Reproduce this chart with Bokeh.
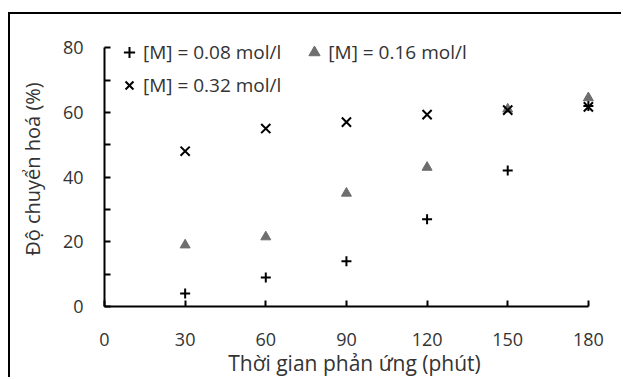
from bokeh.plotting import figure
from bokeh.models import FixedTicker, Legend, LegendItem, Range1d
from bokeh.embed import file_html
from bokeh.resources import INLINE

times = [30, 60, 90, 120, 150, 180]
conv_008 = [4, 9, 14, 27, 42, 62]
conv_016 = [19, 21.5, 35, 43, 61, 64.5]
conv_032 = [48, 55, 57, 59.3, 60.7, 61.7]
x_ticks = [0, 30, 60, 90, 120, 150, 180]
y_ticks = [0, 20, 40, 60, 80]
y_minor = [10, 30, 50, 70]
labels = ["[M] = 0.08 mol/l", "[M] = 0.16 mol/l", "[M] = 0.32 mol/l"]

FONT = "Open Sans"
TXT = "#333333"

p = figure(width=613, height=365, output_backend="svg", toolbar_location=None,
           x_range=Range1d(0, 186), y_range=Range1d(0, 85),
           min_border_left=94, min_border_right=19, min_border_top=17, min_border_bottom=73)
p.margin = (12, 0, 0, 8)
p.styles = {"border-top": "2px solid black", "border-left": "2px solid black"}
p.outline_line_color = None
p.grid.visible = False
p.background_fill_color = "white"
p.border_fill_color = "white"

r1 = p.scatter(times, conv_008, marker="cross", size=10, line_color="black", line_width=2)
r2 = p.scatter(times, conv_016, marker="triangle", size=10, fill_color="#6e6e6e", line_color="#6e6e6e")
r3 = p.scatter(times, conv_032, marker="x", size=13, line_color="black", line_width=2)

for ax in (p.xaxis[0], p.yaxis[0]):
    ax.axis_line_width = 2
    ax.axis_line_color = "black"
    ax.major_tick_line_width = 2
    ax.major_tick_line_color = "black"
    ax.minor_tick_line_width = 2
    ax.minor_tick_line_color = "black"
    ax.major_tick_in = 6
    ax.major_tick_out = 0
    ax.minor_tick_in = 6
    ax.minor_tick_out = 0
    ax.major_label_text_font = FONT
    ax.major_label_text_font_size = "18px"
    ax.major_label_text_color = TXT
    ax.axis_label_text_font = FONT
    ax.axis_label_text_font_style = "normal"
    ax.axis_label_text_color = TXT

p.xaxis.axis_label_text_font_size = "21px"
p.yaxis.axis_label_text_font_size = "20px"
p.xaxis.ticker = FixedTicker(ticks=x_ticks)
p.xaxis.bounds = (0, 180)
p.yaxis.ticker = FixedTicker(ticks=y_ticks, minor_ticks=y_minor)
p.yaxis.bounds = (0, 80)
p.xaxis.major_label_standoff = 26
p.yaxis.major_label_standoff = 21
p.xaxis.axis_label = "Thời gian phản ứng (phút)"
p.yaxis.axis_label = "Độ chuyển hoá (%)"
p.xaxis.axis_label_standoff = 0
p.yaxis.axis_label_standoff = 14


def mk_legend(items, loc):
    lg = Legend(items=items, location=loc, orientation="horizontal")
    lg.background_fill_alpha = 0
    lg.border_line_color = None
    lg.padding = 0
    lg.margin = 0
    lg.spacing = 19
    lg.glyph_width = 28
    lg.glyph_height = 28
    lg.label_height = 28
    lg.label_standoff = 0
    lg.label_text_font = FONT
    lg.label_text_font_size = "19px"
    lg.label_text_color = TXT
    return lg

lg1 = mk_legend([LegendItem(label=labels[0], renderers=[r1]),
                 LegendItem(label=labels[1], renderers=[r2])], (11, 240))
lg2 = mk_legend([LegendItem(label=labels[2], renderers=[r3])], (11, 207))
p.add_layout(lg1)
p.add_layout(lg2)

open("out.html", "w").write(file_html(p, INLINE))
